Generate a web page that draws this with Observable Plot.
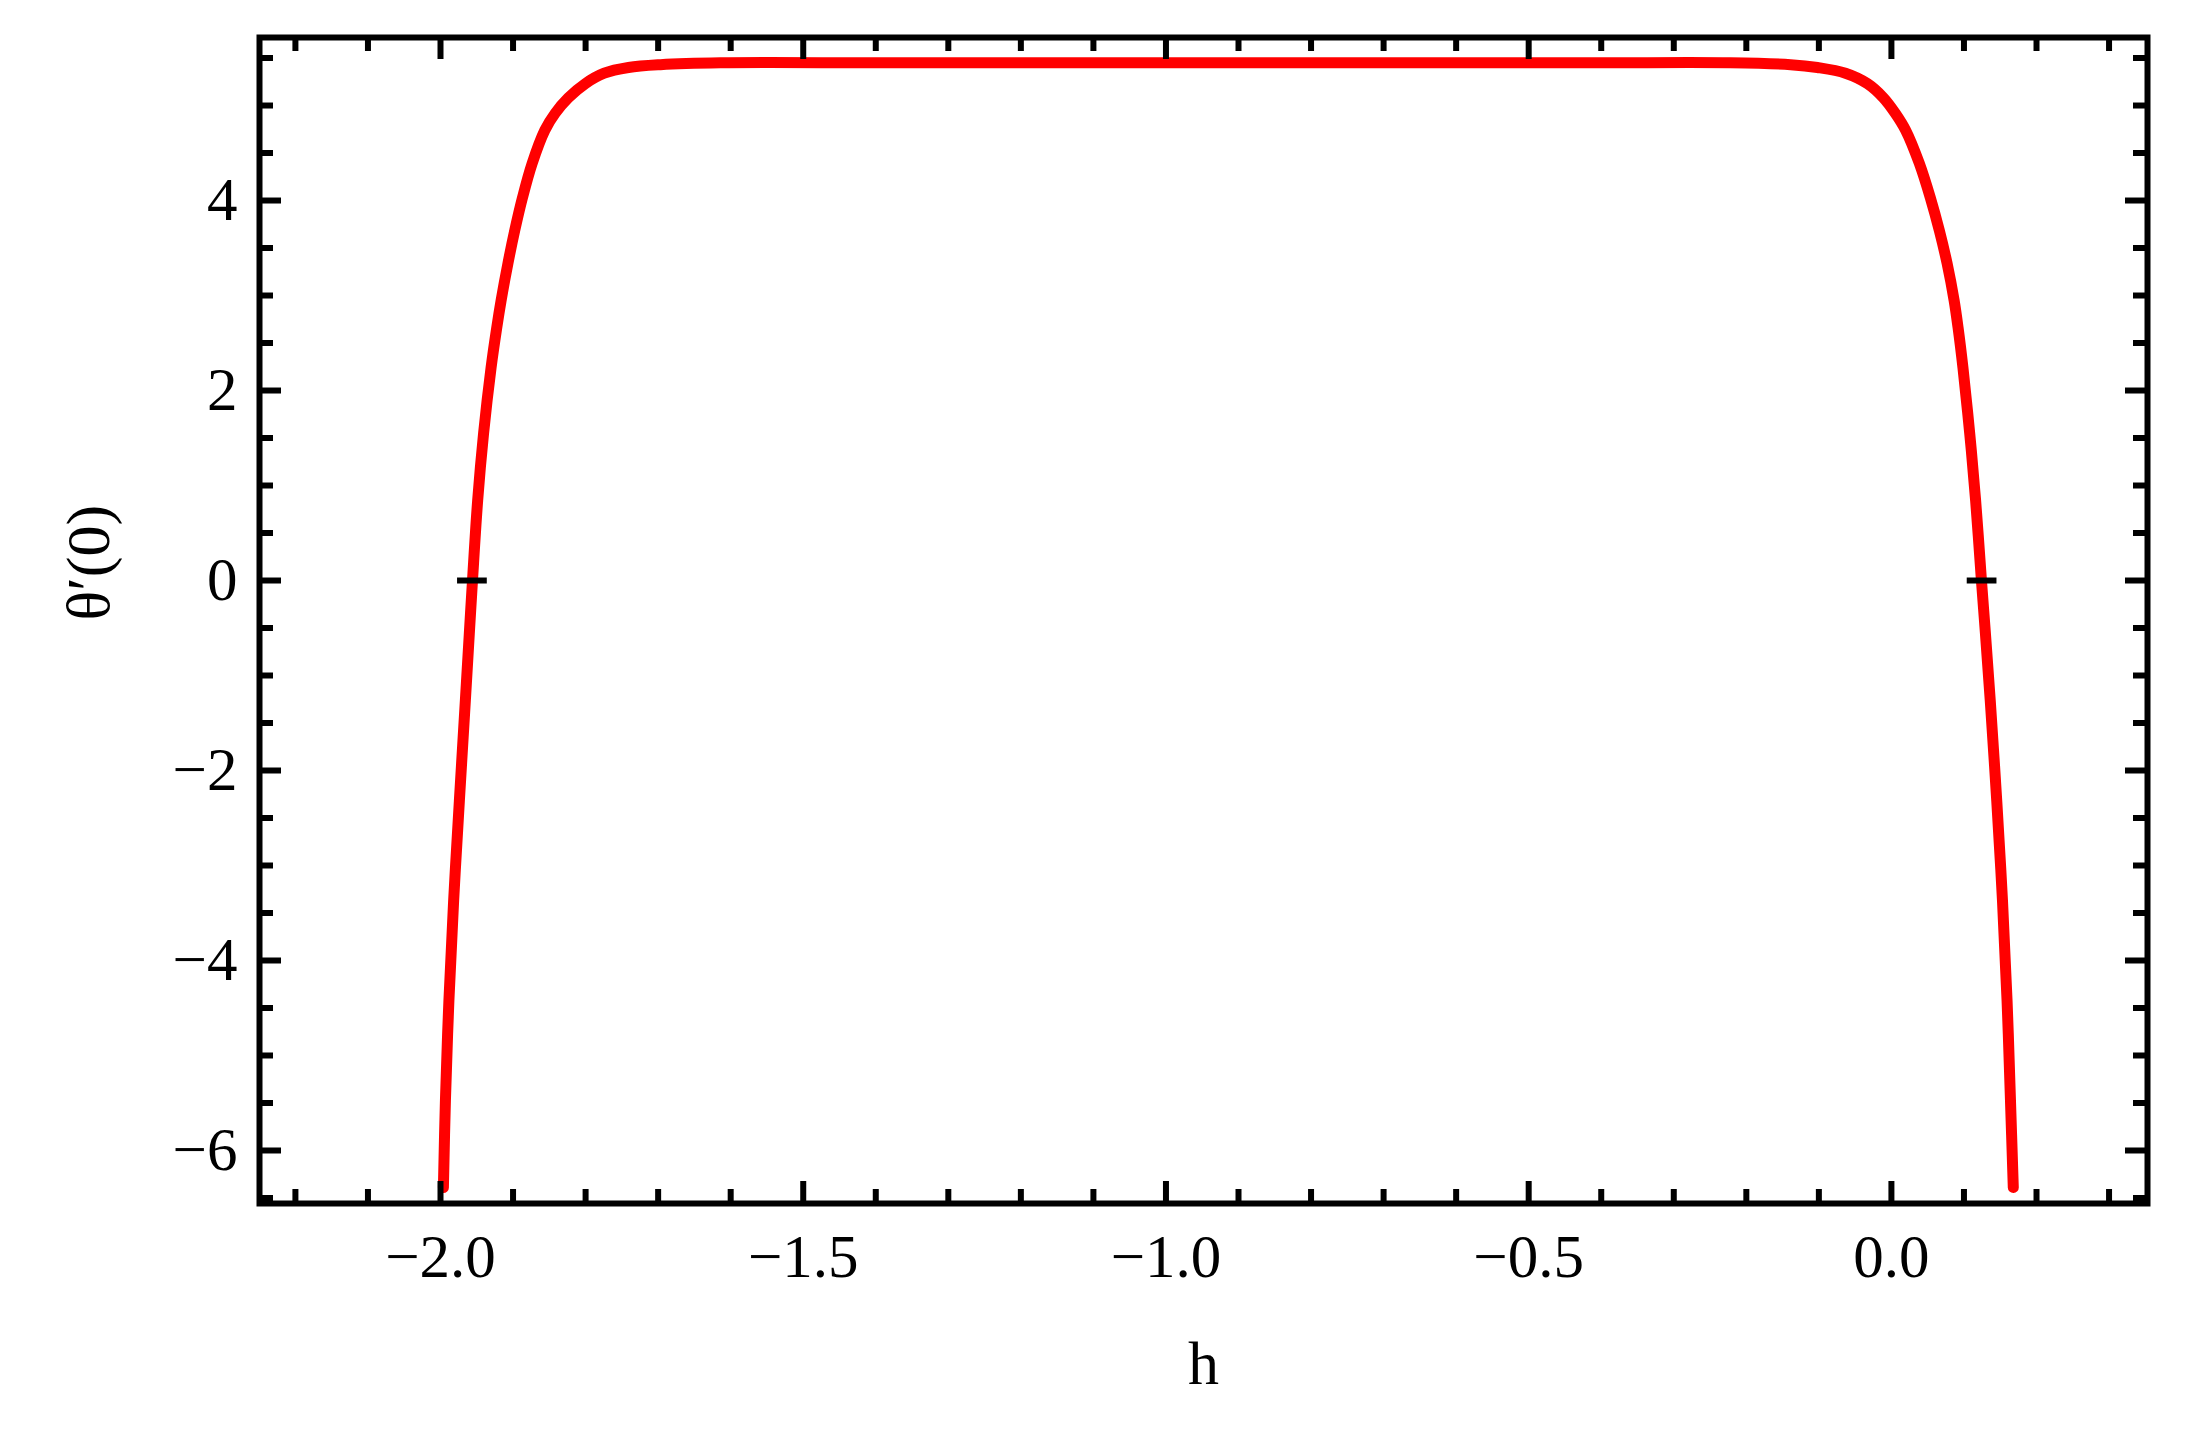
<!DOCTYPE html>
<html>
<head>
<meta charset="utf-8">
<script src="https://cdn.jsdelivr.net/npm/d3@7"></script>
<script src="https://cdn.jsdelivr.net/npm/@observablehq/plot@0.6"></script>
<style>
  html, body { margin: 0; padding: 0; background: #ffffff; }
  #chart svg { display: block; }
</style>
</head>
<body>
<div id="chart"></div>
<script>
// ---- data ----
const h = [
  -1.9960, -1.9932, -1.9884, -1.9819, -1.9740, -1.9657, -1.9603, -1.9559, -1.9488, -1.9406,
  -1.9303, -1.9225, -1.9164, -1.9070, -1.8978, -1.8870, -1.8737, -1.8562, -1.8418,
  -1.8239, -1.8005, -1.7743, -1.7409, -1.6968, -1.6141,
  -1.4, -1.2, -1.0, -0.8, -0.6, -0.4,
  -0.222, -0.139, -0.1020, -0.0633, -0.0330, -0.0108, 0.0052, 0.0196, 0.0385,
  0.0536, 0.0662, 0.0767, 0.0864, 0.0919, 0.0986, 0.1079, 0.1161, 0.1241,
  0.1296, 0.1362, 0.1452, 0.1531, 0.1594, 0.1641, 0.1680
];
const thetaPrime = [
  -6.39, -5.47, -4.42, -3.37, -2.32, -1.26, -0.56, 0.00, 0.84, 1.55,
  2.24, 2.66, 2.95, 3.34, 3.68, 4.03, 4.39, 4.74, 4.92,
  5.08, 5.23, 5.34, 5.40, 5.43, 5.45,
  5.45, 5.45, 5.45, 5.45, 5.45, 5.45,
  5.45, 5.43, 5.40, 5.34, 5.23, 5.08, 4.92, 4.74, 4.39,
  4.03, 3.68, 3.34, 2.95, 2.66, 2.24, 1.55, 0.84, 0.00,
  -0.56, -1.26, -2.32, -3.37, -4.42, -5.47, -6.39
];
const zeroCrossings = [-1.956, 0.125];

const xMajorTicks = [-2.0, -1.5, -1.0, -0.5, 0.0];
const xMinorTicks = [-2.2, -2.1, -1.9, -1.8, -1.7, -1.6, -1.4, -1.3, -1.2, -1.1,
                     -0.9, -0.8, -0.7, -0.6, -0.4, -0.3, -0.2, -0.1, 0.1, 0.2, 0.3];
const yMajorTicks = [-6, -4, -2, 0, 2, 4];
const yMinorTicks = [-6.5, -5.5, -5, -4.5, -3.5, -3, -2.5, -1.5, -1, -0.5,
                     0.5, 1, 1.5, 2.5, 3, 3.5, 4.5, 5, 5.5];
const xDomain = [-2.2495, 0.353];
const yDomain = [-6.558, 5.716];
const xTitle = "h";
const yTitle = "θ′(0)";

// ---- layout ----
const W = 2190, H = 1440;
const mL = 259, mR = 43, mT = 37, mB = 237;
const innerW = W - mL - mR, innerH = H - mT - mB;
const majorLen = 22, minorLen = 14, tickW = 6;
const font = "'Liberation Serif', 'Times New Roman', Times, serif";

const data = h.map((x, i) => ({h: x, t: thetaPrime[i]}));
const halfDash = 0.0205;

const chart = Plot.plot({
  width: W,
  height: H,
  marginLeft: mL,
  marginRight: mR,
  marginTop: mT,
  marginBottom: mB,
  style: {fontFamily: font, fontSize: "60px", color: "#000", background: "#fff"},
  x: {domain: xDomain},
  y: {domain: yDomain},
  marks: [
    Plot.axisX({ticks: xMajorTicks, tickSize: 0, tickPadding: 30, tickFormat: d3.format(".1f"),
                label: null, fontSize: 61}),
    Plot.axisY({ticks: yMajorTicks, tickSize: 0, tickPadding: 22, tickFormat: d3.format("d"),
                label: null, fontSize: 61}),
    Plot.line(data, {x: "h", y: "t", stroke: "#ff0000", strokeWidth: 11, curve: "catmull-rom"}),
    Plot.ruleY(zeroCrossings, {x1: d => d - halfDash, x2: d => d + halfDash, y: () => 0,
                               stroke: "#000", strokeWidth: 6}),
    Plot.tickX(xMajorTicks, {x: d => d, insetTop: innerH - majorLen, stroke: "#000", strokeWidth: tickW}),
    Plot.tickX(xMinorTicks, {x: d => d, insetTop: innerH - minorLen, stroke: "#000", strokeWidth: tickW}),
    Plot.tickX(xMajorTicks, {x: d => d, insetBottom: innerH - majorLen, stroke: "#000", strokeWidth: tickW}),
    Plot.tickX(xMinorTicks, {x: d => d, insetBottom: innerH - minorLen, stroke: "#000", strokeWidth: tickW}),
    Plot.tickY(yMajorTicks, {y: d => d, insetRight: innerW - majorLen, stroke: "#000", strokeWidth: tickW}),
    Plot.tickY(yMinorTicks, {y: d => d, insetRight: innerW - minorLen, stroke: "#000", strokeWidth: tickW}),
    Plot.tickY(yMajorTicks, {y: d => d, insetLeft: innerW - majorLen, stroke: "#000", strokeWidth: tickW}),
    Plot.tickY(yMinorTicks, {y: d => d, insetLeft: innerW - minorLen, stroke: "#000", strokeWidth: tickW}),
    Plot.frame({stroke: "#000", strokeWidth: 6}),
    Plot.text([xTitle], {frameAnchor: "bottom", dy: 180, text: d => d, fontSize: 62, fill: "#000"}),
    Plot.text([yTitle], {frameAnchor: "left", dx: -170, rotate: -90, text: d => d, fontSize: 62, fill: "#000"})
  ]
});

document.getElementById("chart").appendChild(chart);
</script>
</body>
</html>
